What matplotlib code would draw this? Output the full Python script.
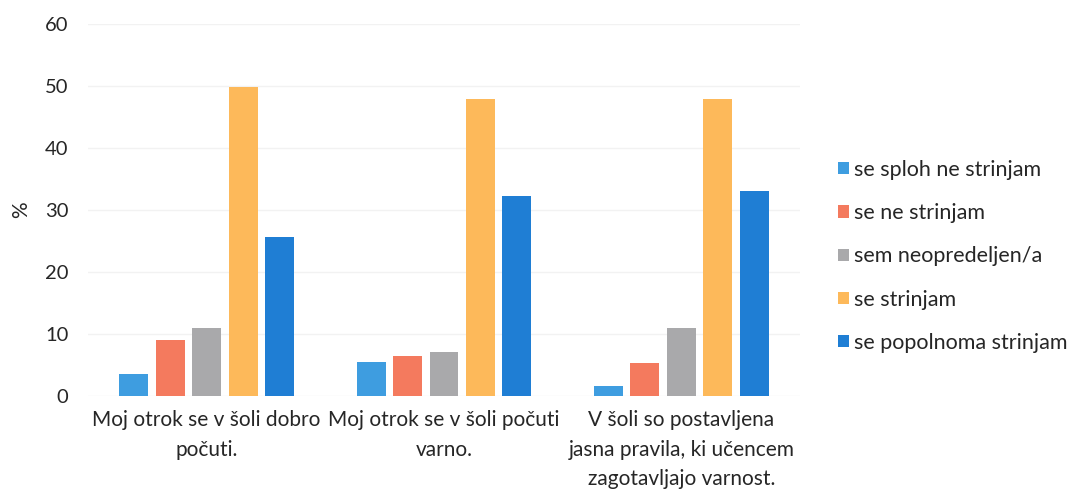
import matplotlib
matplotlib.use("Agg")
import matplotlib.pyplot as plt
import numpy as np
from matplotlib.patches import Patch

categories = ["Moj otrok se v šoli dobro\npočuti.",
              "Moj otrok se v šoli počuti\nvarno.",
              "V šoli so postavljena\njasna pravila, ki učencem\nzagotavljajo varnost."]
series_names = ["se sploh ne strinjam", "se ne strinjam", "sem neopredeljen/a",
                "se strinjam", "se popolnoma strinjam"]
values_sploh_ne = [3.5, 5.5, 1.7]
values_ne = [9.1, 6.4, 5.4]
values_neopredeljen = [10.9, 7.1, 10.9]
values_strinjam = [49.8, 47.9, 47.9]
values_popolnoma = [25.7, 32.3, 33.0]
yticks = [0, 10, 20, 30, 40, 50, 60]

colors = ["#3E9DE0", "#F47A5E", "#A9A9AB", "#FDB95A", "#1F7ED4"]
series = [values_sploh_ne, values_ne, values_neopredeljen, values_strinjam, values_popolnoma]

plt.rcParams['font.family'] = ['Lato', 'DejaVu Sans']
fig = plt.figure(figsize=(10.73, 4.92), dpi=100)
ax = fig.add_axes([0.082, 0.195, 0.6636, 0.756])

x = np.arange(len(categories))
w = 0.122
pitch = 0.1537
for i, (vals, c) in enumerate(zip(series, colors)):
    ax.bar(x + (i - 2) * pitch, vals, width=w, color=c, label=series_names[i], zorder=2)

ax.set_xlim(-0.5, 2.5)
ax.set_ylim(0, 60)
ax.set_yticks(yticks)
ax.set_xticks(x)
ax.set_xticklabels(categories, fontsize=15, color="#262626", linespacing=1.6)
ax.tick_params(axis='y', labelsize=14.5, labelcolor="#262626", length=0, pad=14)
ax.tick_params(axis='x', length=0, pad=10)
ax.grid(axis='y', color="#F2F2F2", linewidth=1, zorder=0)
for s in ax.spines.values():
    s.set_visible(False)
ax.set_ylabel("%", fontsize=15, color="#262626", labelpad=10)

handles = [Patch(facecolor=c, label=n) for c, n in zip(colors, series_names)]
fig.legend(handles=handles, loc="upper left", bbox_to_anchor=(0.781, 0.675),
           frameon=False, fontsize=15.5, handlelength=0.5, handleheight=0.5,
           handletextpad=0.25, labelspacing=1.08, borderpad=0, borderaxespad=0,
           labelcolor="#262626")

fig.savefig("out.png", dpi=100)
